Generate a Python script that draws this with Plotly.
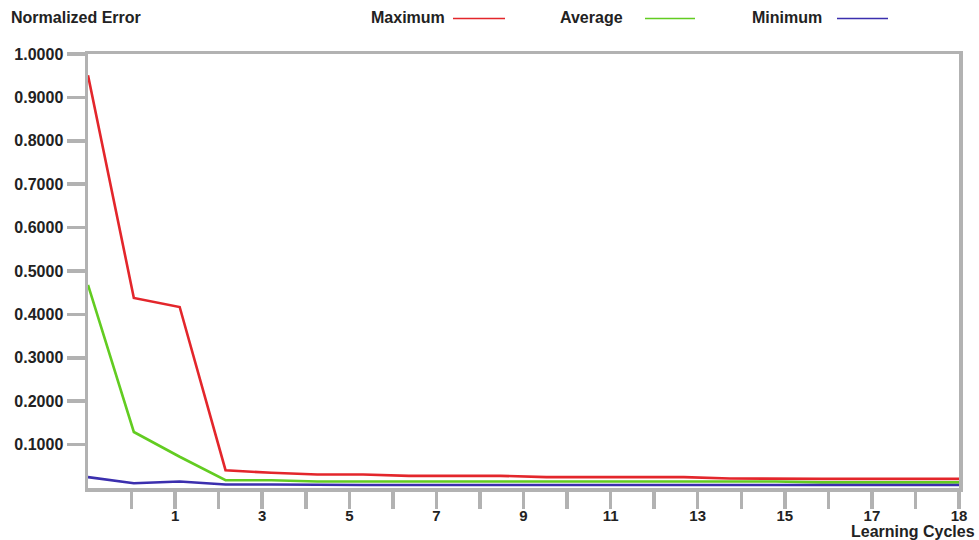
import plotly.graph_objects as go

# ---- data ----
cycles = list(range(20))
maximum = [0.951, 0.438, 0.417, 0.041, 0.035, 0.031, 0.031, 0.028, 0.028, 0.028,
           0.025, 0.025, 0.025, 0.025, 0.022, 0.021, 0.021, 0.021, 0.021, 0.021]
average = [0.468, 0.129, 0.072, 0.018, 0.018, 0.015, 0.015, 0.015, 0.015, 0.015,
           0.015, 0.015, 0.015, 0.015, 0.015, 0.015, 0.013, 0.013, 0.013, 0.013]
minimum = [0.025, 0.011, 0.015, 0.008, 0.008, 0.007, 0.007, 0.007, 0.007, 0.007,
           0.007, 0.007, 0.007, 0.007, 0.007, 0.007, 0.007, 0.007, 0.007, 0.007]

x_tick_labels = ["", "1", "", "3", "", "5", "", "7", "", "9",
                 "", "11", "", "13", "", "15", "", "17", "", "18"]
y_tick_values = [0.1, 0.2, 0.3, 0.4, 0.5, 0.6, 0.7, 0.8, 0.9, 1.0]
y_tick_labels = ["0.1000", "0.2000", "0.3000", "0.4000", "0.5000",
                 "0.6000", "0.7000", "0.8000", "0.9000", "1.0000"]

series_names = ["Maximum", "Average", "Minimum"]
series_colors = ["#e3262b", "#62cc21", "#3b2fae"]

# ---- figure ----
FONT = "Liberation Sans, Arial, sans-serif"
TXT = "#222222"
GREY = "#b2b2b2"

x_max = 19
n_ticks = len(x_tick_labels)
x_tick_vals = [x_max * (k + 1) / n_ticks for k in range(n_ticks)]

fig = go.Figure()
for name, vals, col in zip(series_names, [maximum, average, minimum], series_colors):
    fig.add_trace(go.Scatter(x=cycles, y=vals, mode="lines", name=name,
                             line=dict(color=col, width=2.6), showlegend=False,
                             hoverinfo="skip"))

W, H = 979, 540
L, R, T, B = 88, 20, 54, 52
pw, ph = W - L - R, H - T - B

def px(xp):
    return (xp - L) / pw

def py(yp):
    return 1 + (T - yp) / ph

annotations = [
    dict(text="Normalized Error", x=px(10), y=py(18), xanchor="left", yanchor="middle"),
    dict(text="Learning Cycles", x=px(976), y=py(531), xanchor="right", yanchor="middle"),
]
shapes = []
legend_text_right = [446, 624, 823]
legend_line = [(453, 505), (645, 695), (837, 888)]
for name, col, tr, (l0, l1) in zip(series_names, series_colors, legend_text_right, legend_line):
    annotations.append(dict(text=name, x=px(tr), y=py(18), xanchor="right", yanchor="middle"))
    shapes.append(dict(type="line", xref="paper", yref="paper", x0=px(l0), x1=px(l1),
                       y0=py(18.5), y1=py(18.5), line=dict(color=col, width=1.6)))

for a in annotations:
    a.update(xref="paper", yref="paper", showarrow=False, borderpad=0,
             font=dict(family=FONT, size=16, color=TXT, weight="bold"))

fig.update_layout(
    width=W, height=H,
    margin=dict(l=L, r=R, t=T, b=B),
    paper_bgcolor="white", plot_bgcolor="white",
    annotations=annotations, shapes=shapes,
    showlegend=False,
)
fig.update_xaxes(range=[0, x_max], tickmode="array", tickvals=x_tick_vals, ticktext=x_tick_labels,
                 ticks="outside", ticklen=17, tickwidth=3.5, tickcolor=GREY,
                 ticklabelstandoff=-6,
                 showline=True, linewidth=3.5, linecolor=GREY, mirror=True,
                 showgrid=False, zeroline=False,
                 tickfont=dict(family=FONT, size=15, color=TXT, weight="bold"))
fig.update_yaxes(range=[0, 1.0], tickmode="array", tickvals=y_tick_values, ticktext=y_tick_labels,
                 ticks="outside", ticklen=18, tickwidth=3.5, tickcolor=GREY,
                 showline=True, linewidth=3.5, linecolor=GREY, mirror=True,
                 showgrid=False, zeroline=False,
                 tickfont=dict(family=FONT, size=16, color=TXT, weight="bold"))

fig.write_html("out.html", config={"displayModeBar": False, "staticPlot": True},
               post_script="document.body.style.margin='0';document.body.style.overflow='hidden';")
